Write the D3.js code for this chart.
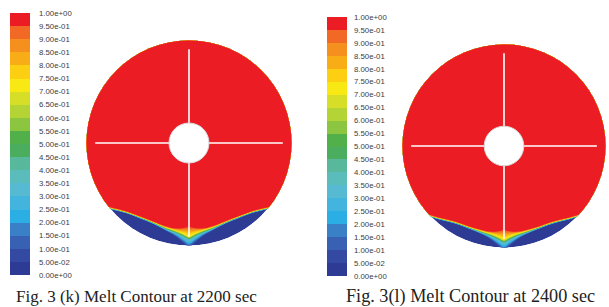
<!DOCTYPE html>
<html>
<head>
<meta charset="utf-8">
<script src="https://cdn.jsdelivr.net/npm/d3@7"></script>
<style>
  body { margin: 0; background: #fff; }
  svg { display: block; }
</style>
</head>
<body>
<div id="chart"></div>
<script>
// colour bar levels (bottom -> top) and labels
const levels = [0, 0.05, 0.1, 0.15, 0.2, 0.25, 0.3, 0.35, 0.4, 0.45, 0.5,
                0.55, 0.6, 0.65, 0.7, 0.75, 0.8, 0.85, 0.9, 0.95, 1.0];
const tickLabels = ["0.00e+00", "5.00e-02", "1.00e-01", "1.50e-01", "2.00e-01",
                    "2.50e-01", "3.00e-01", "3.50e-01", "4.00e-01", "4.50e-01",
                    "5.00e-01", "5.50e-01", "6.00e-01", "6.50e-01", "7.00e-01",
                    "7.50e-01", "8.00e-01", "8.50e-01", "9.00e-01", "9.50e-01",
                    "1.00e+00"];
const bandColors = ["#2d3b95", "#3349a2", "#3861b3", "#3a80c6", "#2aaee3",
                    "#43b4dd", "#56bad3", "#5bbdbb", "#58b89c", "#4aae5e",
                    "#52b04a", "#8cc540", "#b4d335", "#d7de28", "#f8e914",
                    "#fccf12", "#f8ad17", "#f5901e", "#f16924", "#ec1c24"];

// melt front, x across the disk and depth below centre, both in radius units
const frontX = [-1.05, -0.77, -0.6, -0.48, -0.35, -0.22, -0.12, -0.05, 0,
                0.05, 0.12, 0.22, 0.35, 0.48, 0.6, 0.77, 1.05];
// front isolines for the contour values 0.05 / 0.40 / 0.70 / 0.95
const isoValues = [0.05, 0.4, 0.7, 0.95];

// Fig 3(k) 2200 sec
const k95 = [0.60, 0.627, 0.67, 0.715, 0.765, 0.815, 0.835, 0.83, 0.82, 0.83, 0.835, 0.815, 0.765, 0.715, 0.67, 0.627, 0.60];
const k70 = [0.607, 0.634, 0.677, 0.722, 0.773, 0.828, 0.86, 0.89, 0.915, 0.89, 0.86, 0.828, 0.773, 0.722, 0.677, 0.634, 0.607];
const k40 = [0.612, 0.639, 0.682, 0.728, 0.78, 0.84, 0.88, 0.915, 0.94, 0.915, 0.88, 0.84, 0.78, 0.728, 0.682, 0.639, 0.612];
const k05 = [0.62, 0.647, 0.69, 0.737, 0.79, 0.86, 0.92, 0.98, 1.02, 0.98, 0.92, 0.86, 0.79, 0.737, 0.69, 0.647, 0.62];

// Fig 3(l) 2400 sec
const l95 = [0.64, 0.67, 0.715, 0.745, 0.79, 0.828, 0.845, 0.84, 0.83, 0.84, 0.845, 0.828, 0.79, 0.745, 0.715, 0.67, 0.64];
const l70 = [0.647, 0.677, 0.722, 0.752, 0.798, 0.84, 0.87, 0.90, 0.925, 0.90, 0.87, 0.84, 0.798, 0.752, 0.722, 0.677, 0.647];
const l40 = [0.652, 0.682, 0.727, 0.758, 0.805, 0.852, 0.89, 0.925, 0.95, 0.925, 0.89, 0.852, 0.805, 0.758, 0.727, 0.682, 0.652];
const l05 = [0.66, 0.69, 0.735, 0.767, 0.815, 0.87, 0.93, 0.99, 1.03, 0.99, 0.93, 0.87, 0.815, 0.767, 0.735, 0.69, 0.66];

const captions = ["Fig. 3 (k) Melt Contour at 2200 sec", "Fig. 3(l) Melt Contour at 2400 sec"];

const W = 609, H = 307;

const panels = [
  {cx: 189, cy: 143, r: 102.5, barX: 10, barTop: 13, barBottom: 275, labelX: 39,
   curves: [k05, k40, k70, k95], caption: captions[0], capX: 16, capSize: 17},
  {cx: 504, cy: 146, r: 101.5, barX: 327, barTop: 17, barBottom: 276, labelX: 354,
   curves: [l05, l40, l70, l95], caption: captions[1], capX: 346, capSize: 18.2}
];

const svg = d3.select("#chart").append("svg")
    .attr("width", W)
    .attr("height", H);

panels.forEach((p, pi) => {

    // colour bar
    let yBar = d3.scaleLinear().domain([0, 1]).range([p.barBottom, p.barTop]);

    svg.append("g").selectAll("rect")
        .data(bandColors)
        .enter()
        .append("rect")
            .attr("x", p.barX)
            .attr("y", (d, i) => yBar(levels[i + 1]))
            .attr("width", 20)
            .attr("height", (d, i) => yBar(levels[i]) - yBar(levels[i + 1]))
            .attr("fill", d => d)
            .attr("shape-rendering", "crispEdges");

    svg.append("g").selectAll("text")
        .data(tickLabels)
        .enter()
        .append("text")
            .attr("x", p.labelX)
            .attr("y", (d, i) => yBar(levels[i]))
            .attr("dy", "0.35em")
            .attr("font-family", "Liberation Sans, Arial, sans-serif")
            .attr("font-size", "7.8px")
            .attr("fill", "#3c3c3c")
            .text(d => d);

    // disk contour
    let x = d3.scaleLinear().domain([-1, 1]).range([p.cx - p.r, p.cx + p.r]);
    let y = d3.scaleLinear().domain([-1, 1]).range([p.cy - p.r, p.cy + p.r]);

    let clipId = "disk" + pi;
    svg.append("clipPath").attr("id", clipId)
        .append("circle")
            .attr("cx", x(0)).attr("cy", y(0)).attr("r", p.r);

    let g = svg.append("g").attr("clip-path", "url(#" + clipId + ")");

    g.append("circle")
        .attr("cx", x(0)).attr("cy", y(0)).attr("r", p.r)
        .attr("fill", bandColors[0]);

    let area = d3.area()
        .x(d => x(d.x))
        .y0(y(-1.1))
        .y1(d => y(d.y))
        .curve(d3.curveMonotoneX);

    for (let k = 1; k < bandColors.length; k++) {
        let v = levels[k];
        let pts = frontX.map((fx, i) => {
            let iso = d3.scaleLinear()
                .domain(isoValues)
                .range(p.curves.map(c => c[i]))
                .clamp(true);
            return {x: fx, y: iso(v)};
        });
        g.append("path")
            .datum(pts)
            .attr("fill", bandColors[k])
            .attr("d", area);
    }

    // inner tube and white cross lines
    let hole = 0.195;
    let reach = 0.915;
    [[hole, 0, reach, 0], [-hole, 0, -reach, 0], [0, hole, 0, reach], [0, -hole, 0, -reach]]
        .forEach(l => {
            svg.append("line")
                .attr("x1", x(l[0])).attr("y1", y(l[1]))
                .attr("x2", x(l[2])).attr("y2", y(l[3]))
                .attr("stroke", "#fff")
                .attr("stroke-width", 1.6);
        });

    svg.append("circle")
        .attr("cx", x(0)).attr("cy", y(0)).attr("r", hole * p.r)
        .attr("fill", "#fff")
        .attr("stroke", "#d9d9d9")
        .attr("stroke-width", 1);

    // caption
    svg.append("text")
        .attr("x", p.capX)
        .attr("y", 302)
        .attr("font-family", "Liberation Serif, Times New Roman, serif")
        .attr("font-size", p.capSize + "px")
        .attr("fill", "#222")
        .text(p.caption);
});
</script>
</body>
</html>
